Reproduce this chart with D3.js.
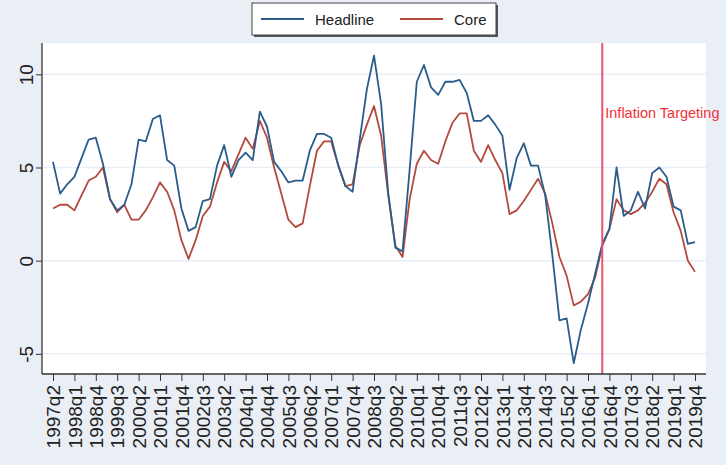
<!DOCTYPE html>
<html lang="en">
<head>
<meta charset="utf-8">
<title>Headline vs Core</title>
<script src="https://d3js.org/d3.v7.min.js"></script>
<style>
  body { margin: 0; background: #eaeff6; }
  svg { display: block; font-family: "Liberation Sans", Arial, sans-serif; }
</style>
</head>
<body>
<script>
// quarters from 1997q2 to 2019q4
var quarters = [];
for (var yr = 1997; yr <= 2019; yr++) {
  for (var q = 1; q <= 4; q++) {
    if (yr == 1997 && q < 2) continue;
    quarters.push(yr + "q" + q);
  }
}
var tickLabels = ["1997q2","1998q1","1998q4","1999q3","2000q2","2001q1","2001q4","2002q3",
  "2003q2","2004q1","2004q4","2005q3","2006q2","2007q1","2007q4","2008q3","2009q2","2010q1",
  "2010q4","2011q3","2012q2","2013q1","2013q4","2014q3","2015q2","2016q1","2016q4","2017q3",
  "2018q2","2019q1","2019q4"];
var yTicks = [-5, 0, 5, 10];

var headline = [5.3,3.6,4.1,4.5,5.5,6.5,6.6,5.2,3.3,2.7,3.0,4.1,6.5,6.4,7.6,7.8,5.4,5.1,2.8,1.6,
  1.8,3.2,3.3,5.1,6.2,4.5,5.4,5.8,5.4,8.0,7.2,5.3,4.8,4.2,4.3,4.3,5.9,6.8,6.8,6.6,
  5.1,4.0,3.7,6.5,9.2,11.0,8.4,3.6,0.7,0.5,4.9,9.6,10.5,9.3,8.9,9.6,9.6,9.7,9.0,7.5,
  7.5,7.8,7.3,6.7,3.8,5.5,6.3,5.1,5.1,3.5,0.3,-3.2,-3.1,-5.5,-3.7,-2.3,-0.7,0.9,1.7,5.0,
  2.4,2.7,3.7,2.8,4.7,5.0,4.5,2.9,2.7,0.9,1.0];
var core = [2.8,3.0,3.0,2.7,3.5,4.3,4.5,5.0,3.3,2.6,3.0,2.2,2.2,2.7,3.4,4.2,3.7,2.7,1.1,0.1,
  1.1,2.4,2.9,4.2,5.3,4.8,5.7,6.6,6.0,7.5,6.6,5.0,3.6,2.2,1.8,2.0,4.0,5.9,6.4,6.4,
  5.1,4.0,4.1,6.2,7.3,8.3,6.7,3.5,0.8,0.2,3.3,5.2,5.9,5.4,5.2,6.4,7.4,7.9,7.9,5.9,
  5.3,6.2,5.4,4.7,2.5,2.7,3.2,3.8,4.4,3.6,2.0,0.2,-0.8,-2.4,-2.2,-1.8,-0.9,0.8,1.7,3.3,
  2.7,2.5,2.7,3.1,3.7,4.4,4.1,2.6,1.6,0.0,-0.6];
var targetingStart = "2016q3";

var W = 726, H = 465;
var svg = d3.select("body").append("svg").attr("width", W).attr("height", H);

svg.append("rect").attr("width", W).attr("height", H).attr("fill", "#eaeff6");

// plot region (note: "top" is reserved in browsers, so use pTop etc.)
var pLeft = 42, pRight = 706, pTop = 43, pBottom = 374;
svg.append("rect").attr("x", pLeft).attr("y", pTop)
  .attr("width", pRight - pLeft).attr("height", pBottom - pTop).attr("fill", "#ffffff");

var x = d3.scalePoint().domain(quarters).range([53, 695]);
var y = d3.scaleLinear().domain([-6.08, 11.68]).range([pBottom, pTop]);

// grid
svg.selectAll(".grid").data(yTicks).enter().append("line")
  .attr("x1", pLeft + 1).attr("x2", pRight)
  .attr("y1", d => y(d)).attr("y2", d => y(d))
  .attr("stroke", "#e9eef6").attr("stroke-width", 1.5);

// lines
var line = d3.line().x((d, i) => x(quarters[i])).y(d => y(d));
svg.append("path").datum(core).attr("d", line)
  .attr("fill", "none").attr("stroke", "#b4493e").attr("stroke-width", 1.8)
  .attr("stroke-linejoin", "round");
svg.append("path").datum(headline).attr("d", line)
  .attr("fill", "none").attr("stroke", "#2a5c8c").attr("stroke-width", 1.8)
  .attr("stroke-linejoin", "round");

// inflation targeting line
svg.append("line")
  .attr("x1", x(targetingStart)).attr("x2", x(targetingStart))
  .attr("y1", pTop).attr("y2", pBottom)
  .attr("stroke", "#e8546c").attr("stroke-width", 2);
svg.append("text").attr("x", x(targetingStart) + 3).attr("y", 118)
  .attr("fill", "#f2303a").attr("font-size", 14.5).text("Inflation Targeting");

// y axis
var yAxis = svg.append("g").attr("transform", "translate(" + pLeft + ",0)")
  .call(d3.axisLeft(y).tickValues(yTicks).tickSize(6).tickFormat(d => String(d)));
yAxis.select(".domain").attr("stroke", "#333").attr("stroke-width", 1.3)
  .attr("d", "M0," + pTop + "V" + pBottom);
yAxis.selectAll(".tick line").attr("stroke", "#333");
yAxis.selectAll(".tick text")
  .attr("font-size", 19).attr("fill", "#222")
  .attr("text-anchor", "middle").attr("x", 0).attr("y", 0).attr("dy", 0)
  .attr("transform", "translate(-9,0) rotate(-90)");

// x axis
var xAxis = svg.append("g").attr("transform", "translate(0," + pBottom + ")")
  .call(d3.axisBottom(x).tickValues(tickLabels).tickSize(7).tickSizeOuter(0));
xAxis.select(".domain").attr("stroke", "#333").attr("stroke-width", 1.3)
  .attr("d", "M" + pLeft + ",0H" + pRight);
xAxis.selectAll(".tick line").attr("stroke", "#333");
xAxis.selectAll(".tick text")
  .attr("font-size", 19).attr("fill", "#222")
  .attr("text-anchor", "end").attr("x", 0).attr("y", 0).attr("dy", "0.35em")
  .attr("transform", "translate(0,11) rotate(-90)");

// legend
var lg = svg.append("g");
lg.append("rect").attr("x", 254).attr("y", 5).attr("width", 244).attr("height", 32).attr("fill", "#555");
lg.append("rect").attr("x", 252).attr("y", 3).attr("width", 244).attr("height", 32)
  .attr("fill", "#fff").attr("stroke", "#444").attr("stroke-width", 1);
var items = [{name: "Headline", color: "#2a5c8c", x: 261}, {name: "Core", color: "#b4493e", x: 400}];
items.forEach(function(it) {
  lg.append("line").attr("x1", it.x).attr("x2", it.x + 43).attr("y1", 19).attr("y2", 19)
    .attr("stroke", it.color).attr("stroke-width", 1.8);
  lg.append("text").attr("x", it.x + 54).attr("y", 24.5).attr("font-size", 15)
    .attr("fill", "#222").text(it.name);
});
</script>
</body>
</html>
